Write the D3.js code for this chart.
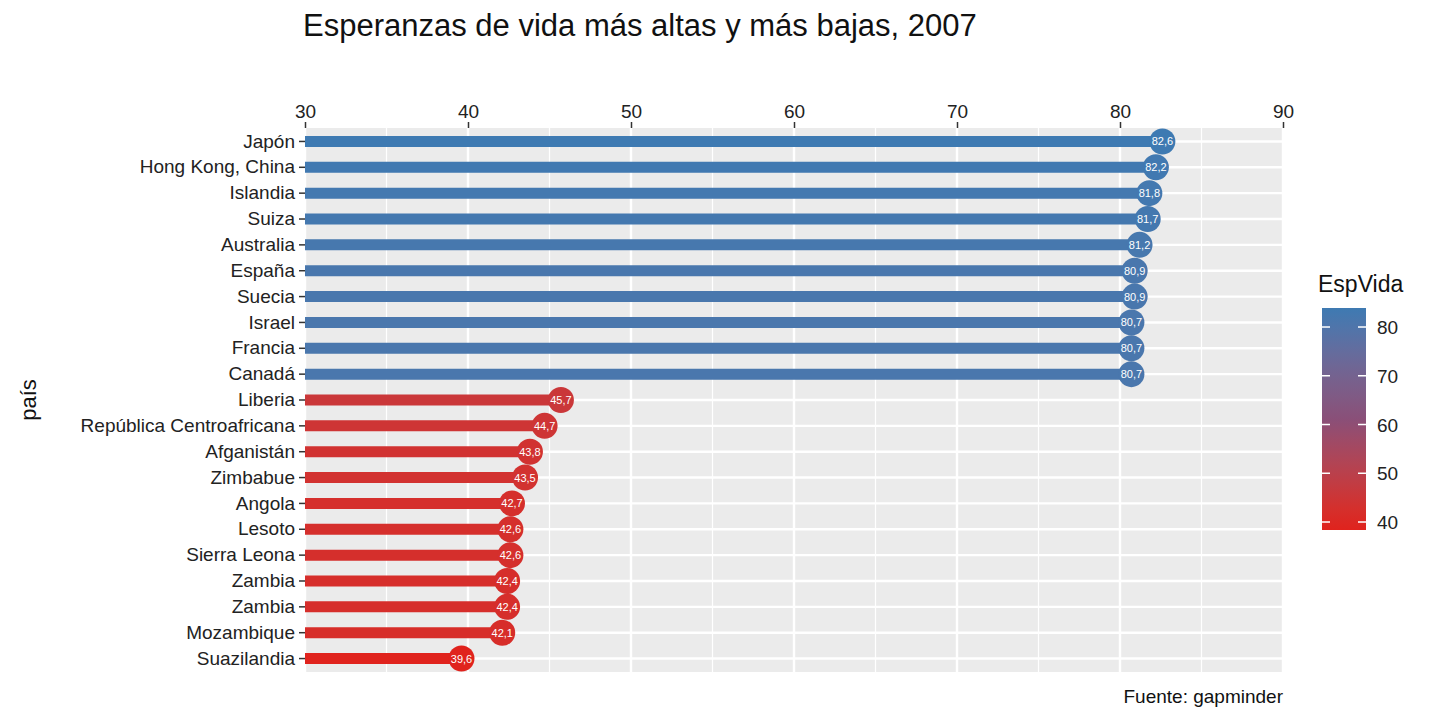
<!DOCTYPE html>
<html><head><meta charset="utf-8">
<script src="https://cdn.jsdelivr.net/npm/d3@7"></script>
<style>body{margin:0;background:#fff;font-family:"Liberation Sans",Arial,sans-serif}</style>
</head><body><div id="chart"></div>
<script>
// data
const countries = ["Japón","Hong Kong, China","Islandia","Suiza","Australia","España","Suecia","Israel","Francia","Canadá",
  "Liberia","República Centroafricana","Afganistán","Zimbabue","Angola","Lesoto","Sierra Leona","Zambia","Zambia ","Mozambique","Suazilandia"];
const lifeExp = [82.6,82.2,81.8,81.7,81.2,80.9,80.9,80.7,80.7,80.7,45.7,44.7,43.8,43.5,42.7,42.6,42.6,42.4,42.4,42.1,39.6];
const xTicks = [30,40,50,60,70,80,90];
const legendTicks = [40,50,60,70,80];

const W = 1440, H = 720;
const panel = {left: 305, right: 1283, top: 128, bottom: 672};

const svg = d3.select("#chart").append("svg").attr("width", W).attr("height", H);

const x = d3.scaleLinear().domain([30, 90]).range([panel.left, panel.right]);
const y = d3.scaleBand().domain(countries).range([panel.top, panel.bottom]).paddingInner(0).paddingOuter(0.02);
const color = d3.scaleLinear().domain([39.6, 61, 82.6]).range(["#e0231d", "#8a4f78", "#3e7ab2"]).interpolate(d3.interpolateLab);

// panel
svg.append("rect").attr("x", panel.left).attr("y", panel.top)
  .attr("width", panel.right - panel.left).attr("height", panel.bottom - panel.top).attr("fill", "#ebebeb");

// minor grid
d3.range(35, 90, 10).forEach(v => {
  svg.append("line").attr("x1", x(v)).attr("x2", x(v)).attr("y1", panel.top).attr("y2", panel.bottom)
    .attr("stroke", "#fff").attr("stroke-width", 1.2);
});
// major grid
xTicks.forEach(v => {
  svg.append("line").attr("x1", x(v)).attr("x2", x(v)).attr("y1", panel.top).attr("y2", panel.bottom)
    .attr("stroke", "#fff").attr("stroke-width", 2.4);
});
countries.forEach(c => {
  const cy = y(c) + y.bandwidth() / 2;
  svg.append("line").attr("x1", panel.left).attr("x2", panel.right).attr("y1", cy).attr("y2", cy)
    .attr("stroke", "#fff").attr("stroke-width", 2.4);
});

// top axis
const xAxis = svg.append("g").attr("transform", `translate(0,${panel.top})`)
  .call(d3.axisTop(x).tickValues(xTicks).tickSize(6).tickPadding(4));
xAxis.select(".domain").remove();
xAxis.selectAll("line").attr("stroke", "#333").attr("stroke-width", 1.5);
xAxis.selectAll("text").attr("fill", "#222").style("font-size", "19px");

// y axis
const yAxis = svg.append("g").attr("transform", `translate(${panel.left},0)`)
  .call(d3.axisLeft(y).tickSize(6).tickPadding(4));
yAxis.select(".domain").remove();
yAxis.selectAll("line").attr("stroke", "#333").attr("stroke-width", 1.5);
yAxis.selectAll("text").attr("fill", "#222").style("font-size", "19px");

// lollipops
const rows = countries.map((c, i) => ({c, v: lifeExp[i]}));
svg.selectAll(".seg").data(rows).enter().append("line")
  .attr("x1", x(30)).attr("x2", d => x(d.v))
  .attr("y1", d => y(d.c) + y.bandwidth() / 2).attr("y2", d => y(d.c) + y.bandwidth() / 2)
  .attr("stroke", d => color(d.v)).attr("stroke-width", 11);
svg.selectAll(".dot").data(rows).enter().append("circle")
  .attr("cx", d => x(d.v)).attr("cy", d => y(d.c) + y.bandwidth() / 2).attr("r", 13)
  .attr("fill", d => color(d.v));
svg.selectAll(".lbl").data(rows).enter().append("text")
  .attr("x", d => x(d.v)).attr("y", d => y(d.c) + y.bandwidth() / 2 + 4)
  .attr("text-anchor", "middle").attr("fill", "#fff").style("font-size", "11px")
  .text(d => d.v.toFixed(1).replace(".", ","));

// titles
svg.append("text").attr("x", 303).attr("y", 36).style("font-size", "31px").attr("fill", "#111")
  .text("Esperanzas de vida más altas y más bajas, 2007");
svg.append("text").attr("transform", "translate(36,400) rotate(-90)").attr("text-anchor", "middle")
  .style("font-size", "22px").attr("fill", "#111").text("país");
svg.append("text").attr("x", panel.right).attr("y", 703).attr("text-anchor", "end")
  .style("font-size", "19px").attr("fill", "#111").text("Fuente: gapminder");

// legend
const lg = {x: 1322, w: 44, top: 308, bottom: 530};
const ly = d3.scaleLinear().domain([38.36, 83.9]).range([lg.bottom, lg.top]);
const grad = svg.append("defs").append("linearGradient").attr("id", "g")
  .attr("x1", 0).attr("x2", 0).attr("y1", 1).attr("y2", 0);
d3.range(0, 1.01, 0.1).forEach(t => {
  const v = 38.36 + t * (83.9 - 38.36);
  grad.append("stop").attr("offset", t).attr("stop-color", color(Math.max(39.6, Math.min(82.6, v))));
});
svg.append("rect").attr("x", lg.x).attr("y", lg.top).attr("width", lg.w).attr("height", lg.bottom - lg.top)
  .attr("fill", "url(#g)");
legendTicks.forEach(v => {
  [lg.x, lg.x + lg.w - 8].forEach(tx => svg.append("line").attr("x1", tx).attr("x2", tx + 8)
    .attr("y1", ly(v)).attr("y2", ly(v)).attr("stroke", "#fff").attr("stroke-width", 1.5));
  svg.append("text").attr("x", lg.x + lg.w + 11).attr("y", ly(v) + 7).style("font-size", "19px")
    .attr("fill", "#222").text(v);
});
svg.append("text").attr("x", 1318).attr("y", 292).style("font-size", "23px").attr("fill", "#111").text("EspVida");
</script></body></html>
